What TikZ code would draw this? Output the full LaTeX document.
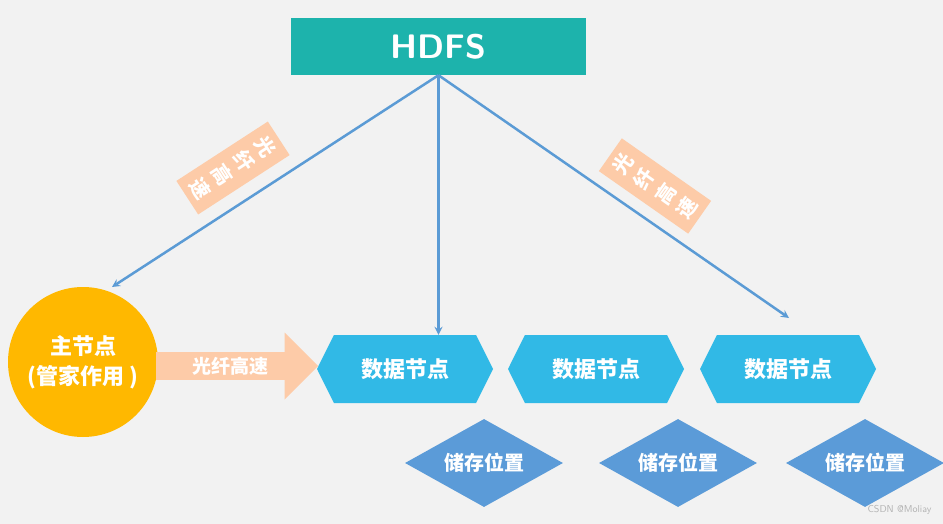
\documentclass[tikz,border=0pt]{standalone}
\usepackage{fontspec}
\newfontfamily\cjk{Noto Sans CJK SC}
\usetikzlibrary{positioning}
\usetikzlibrary{shapes.geometric}
\usetikzlibrary{shapes.symbols}
\usetikzlibrary{shapes.arrows}
\definecolor{hdfsteal}{HTML}{1DB3AC}
\definecolor{mastergold}{HTML}{FFB800}
\definecolor{fibrepeach}{HTML}{FDCBA8}
\definecolor{datablue}{HTML}{31B9E6}
\definecolor{storeblue}{HTML}{5B9BD8}
\definecolor{linkblue}{HTML}{5B9BD5}
\tikzset{
    >=stealth,
%
    % white bold text used on every shape
    label text/.style={text=white, font=\cjk\bfseries\fontsize{22}{30}\selectfont},
%
    % the three data nodes
    data box/.style={label text, signal, signal to=west and east,
        signal pointer angle=127, fill=datablue, minimum width=176pt,
        minimum height=68pt, inner sep=0pt},
%
    % storage diamonds under the data nodes
    store box/.style={label text, diamond, fill=storeblue, aspect=1.8,
        minimum width=158pt, minimum height=88pt, inner sep=0pt,
        font=\cjk\bfseries\fontsize{20}{24}\selectfont},
%
    % peach fibre labels along the links
    fibre tag/.style={fill=fibrepeach, text=white, align=center,
        font=\cjk\bfseries\fontsize{20}{26}\selectfont, inner xsep=10pt,
        inner ysep=6pt},
%
    % blue links from HDFS
    link/.style={linkblue, line width=2.5pt, ->}}

\begin{document}
\begin{tikzpicture}[x=1pt, y=-1pt]
\fill [black!5] (0,0) rectangle (943,524);
\useasboundingbox (0,0) rectangle (943,524);

\node [fill=hdfsteal, minimum width=295pt, minimum height=57pt,
    text=white, font=\sffamily\bfseries\fontsize{34}{40}\selectfont]
    (hdfs) at (438.5,46.5) {HDFS};

\node [circle, fill=mastergold, minimum size=150pt, align=center,
    label text, inner sep=0pt] (master) at (83,362)
    {主节点\\(管家作用 )};

\node [single arrow, fill=fibrepeach, minimum height=162pt,
    minimum width=67pt, single arrow head extend=13pt, inner sep=0pt,
    anchor=west, text=white, font=\cjk\bfseries\fontsize{19}{22}\selectfont]
    (fibre) at (156,366) {光纤高速\hspace{46pt}};

\node [data box] (data a) at (405,369) {数据节点};
\node [data box] (data b) at (596,369) {数据节点};
\node [data box] (data c) at (788,369) {数据节点};

\node [store box] (store a) at (484,463) {储存位置};
\node [store box] (store b) at (678,463) {储存位置};
\node [store box] (store c) at (865,463) {储存位置};

\coordinate (hub) at (hdfs.south);
\draw [link] (hub) -- (112,287) coordinate (master top);
\draw [link] (hub) -- (hub |- data a.north);
\draw [link] (hub) -- (789,318) coordinate (right end);

\node [fibre tag, rotate=-57] (tag left) at (233,168) {光\\纤\\高\\速};
\node [fibre tag, rotate=55] (tag right) at (655,186) {光\\纤\\高\\速};

\node [anchor=south east, text=black!30, font=\sffamily\fontsize{10}{12}\selectfont]
    (mark) at (935,518) {CSDN @Moliay};
\end{tikzpicture}
\end{document}
